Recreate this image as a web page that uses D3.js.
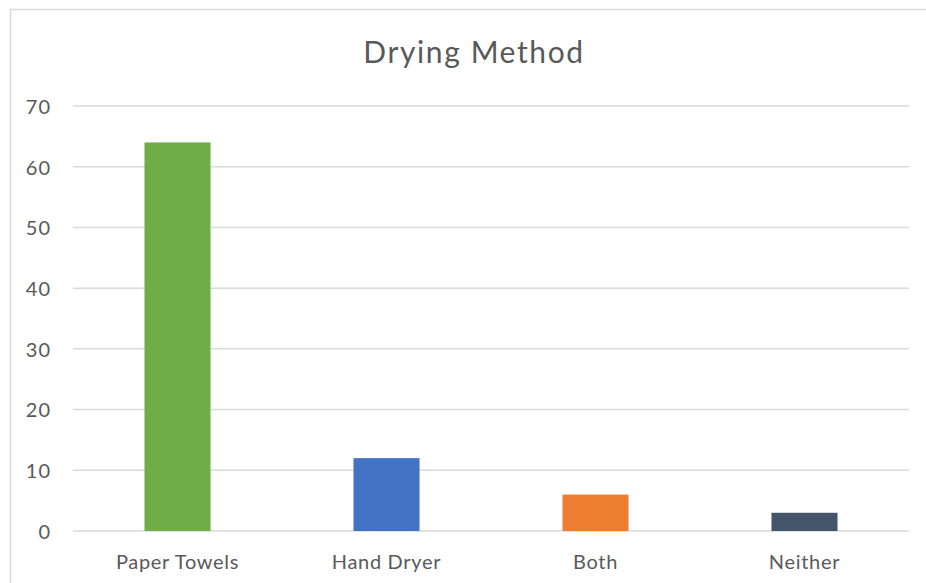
<!DOCTYPE html>
<html><head><meta charset="utf-8">
<script src="https://cdn.jsdelivr.net/npm/d3@7"></script>
<style>body{margin:0;background:#fff}svg{display:block}</style>
</head><body>
<script>
const categories = ["Paper Towels", "Hand Dryer", "Both", "Neither"];
const values = [64, 12, 6, 3];
const colors = ["#70ad47", "#4472c4", "#ed7d31", "#44546a"];
const yTicks = [0, 10, 20, 30, 40, 50, 60, 70];
const title = "Drying Method";

const W = 926, H = 583;
const svg = d3.select("body").append("svg").attr("width", W).attr("height", H);
const font = "Lato, 'Open Sans', sans-serif";

svg.append("rect").attr("x", 10.5).attr("y", 9.5).attr("width", 1000).attr("height", 1000)
  .attr("fill", "#fff").attr("stroke", "#d9d9d9").attr("stroke-width", 1.5);

const x0 = 73, x1 = 909, yTop = 106, yBot = 531;
const x = d3.scaleBand().domain(categories).range([x0, x1]).padding(0);
const y = d3.scaleLinear().domain([0, 70]).range([yBot, yTop]);

svg.append("g").selectAll("line").data(yTicks).join("line")
  .attr("x1", x0).attr("x2", x1).attr("y1", d => y(d)).attr("y2", d => y(d))
  .attr("stroke", "#d9d9d9").attr("stroke-width", 1.5);

const yAxis = d3.axisLeft(y).tickValues(yTicks).tickSize(0).tickPadding(0);
const gy = svg.append("g").attr("transform", `translate(51,1)`).call(yAxis);
gy.select(".domain").remove();
gy.selectAll("text").attr("font-family", font).attr("font-size", 20)
  .attr("letter-spacing", 1).attr("fill", "#595959");

const bw = x.bandwidth() * 0.316;
svg.append("g").selectAll("rect").data(categories).join("rect")
  .attr("x", d => x(d) + x.bandwidth() / 2 - bw / 2)
  .attr("width", bw)
  .attr("y", (d, i) => y(values[i]))
  .attr("height", (d, i) => y(0) - y(values[i]))
  .attr("fill", (d, i) => colors[i]);

const xAxis = d3.axisBottom(x).tickSize(0).tickPadding(0);
const gx = svg.append("g").attr("transform", `translate(0,555)`).call(xAxis);
gx.select(".domain").remove();
gx.selectAll("text").attr("font-family", font).attr("font-size", 20)
  .attr("letter-spacing", 0.7).attr("fill", "#595959");

svg.append("text").attr("x", 474).attr("y", 63).attr("text-anchor", "middle")
  .attr("font-family", font).attr("font-size", 30).attr("letter-spacing", 1.6)
  .attr("fill", "#595959").text(title);
</script>
</body></html>
